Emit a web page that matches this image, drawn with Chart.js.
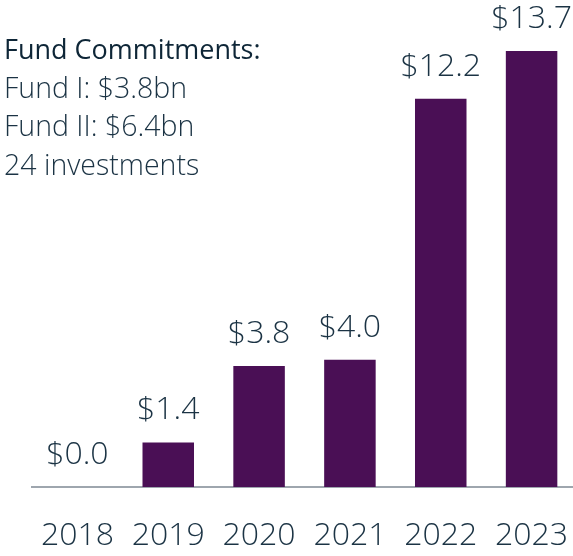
<!DOCTYPE html>
<html>
<head>
<meta charset="utf-8">
<script src="https://cdn.jsdelivr.net/npm/chart.js@4.4.1/dist/chart.umd.min.js"></script>
<style>
  html, body { margin: 0; padding: 0; background: #fff; overflow: hidden; }
  #frame { position: relative; width: 573px; height: 556px; overflow: hidden; }
  #wrap { position: absolute; left: 0; top: 0; width: 580px; height: 556px; }
  #chart { position: absolute; left: 0; top: 0; }
  #note { position: absolute; left: 4px; top: 0; font-family: "Open Sans", sans-serif; color: #1b3344; white-space: nowrap; }
  #note div { position: absolute; left: 0; line-height: 1; }
  #note .head { font-weight: 400; color: #0e2637; font-size: 27px; top: 35px; }
  #note .line { font-weight: 300; font-size: 28.5px; }
</style>
</head>
<body>
<div id="frame">
  <div id="wrap">
    <!-- the last category runs a few pixels past the visible edge -->
    <canvas id="chart" width="580" height="556" style="width:580px;height:556px"></canvas>
  </div>
  <div id="note">
    <div class="head">Fund Commitments:</div>
    <div class="line" style="top:73px">Fund I: $3.8bn</div>
    <div class="line" style="top:111px">Fund II: $6.4bn</div>
    <div class="line" style="top:150px">24 investments</div>
  </div>
</div>
<script>
// Yearly totals in $bn
const years = ["2018", "2019", "2020", "2021", "2022", "2023"];
const commitments = [0.0, 1.4, 3.8, 4.0, 12.2, 13.7];

const TEXT = "#1b3344";
const FONT = "'Open Sans', sans-serif";

// Writes "$x.x" above each bar
const valueLabels = {
  id: "valueLabels",
  afterDatasetsDraw(chart) {
    const ctx = chart.ctx;
    const meta = chart.getDatasetMeta(0);
    ctx.save();
    ctx.font = "300 32px " + FONT;
    ctx.fillStyle = TEXT;
    ctx.textAlign = "center";
    ctx.textBaseline = "alphabetic";
    meta.data.forEach((bar, i) => {
      ctx.fillText("$" + commitments[i].toFixed(1), bar.x, bar.y - 23);
    });
    ctx.restore();
  }
};

new Chart(document.getElementById("chart"), {
  type: "bar",
  data: {
    labels: years,
    datasets: [{
      data: commitments,
      backgroundColor: "#4a0f55",
      borderWidth: 0,
      categoryPercentage: 1,
      barPercentage: 0.567
    }]
  },
  options: {
    responsive: false,
    animation: false,
    events: [],
    layout: { padding: { left: 32, right: 3, top: 0, bottom: 0 } },
    plugins: { legend: { display: false }, tooltip: { enabled: false } },
    scales: {
      x: {
        // grid lines hidden; tickLength only spaces the year labels below the axis
        grid: { display: false, drawTicks: true, tickLength: 30 },
        border: { display: true, color: "#9ea6ae", width: 2 },
        ticks: {
          color: TEXT,
          font: { family: FONT, size: 32, weight: 300 },
          padding: 0,
          maxRotation: 0,
          autoSkip: false
        },
        afterFit(scale) { scale.height = 69; }
      },
      y: {
        display: false,
        min: 0,
        max: 15.3
      }
    }
  },
  plugins: [valueLabels]
});
</script>
</body>
</html>
